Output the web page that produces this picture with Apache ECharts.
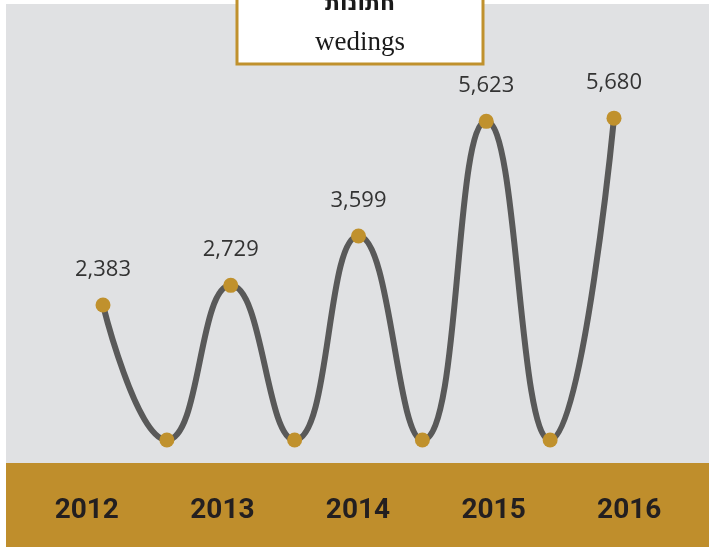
<!DOCTYPE html>
<html>
<head>
<meta charset="utf-8">
<script src="https://cdn.jsdelivr.net/npm/echarts@6/dist/echarts.min.js"></script>
<style>
  html, body { margin: 0; padding: 0; background: #fff; }
  #main { width: 709px; height: 547px; }
</style>
</head>
<body>
<div id="main"></div>
<script>
// points: year value, then a dip back to zero between years
var points = ['2012', 'a', '2013', 'b', '2014', 'c', '2015', 'd', '2016'];
var values = [2383, 0, 2729, 0, 3599, 0, 5623, 0, 5680];
var years = ['2012', '2013', '2014', '2015', '2016'];

var gold = '#c0912d';

var chart = echarts.init(document.getElementById('main'));
chart.setOption({
  backgroundColor: '#fff',
  animation: false,
  graphic: [
    { type: 'rect', z: -10, shape: { x: 6, y: 4, width: 703, height: 460 }, style: { fill: '#e0e1e3' } },
    { type: 'rect', z: -10, shape: { x: 6, y: 463, width: 703, height: 84 }, style: { fill: '#bf8e2c' } },
    { type: 'rect', z: 100, shape: { x: 237, y: -6, width: 246, height: 70 },
      style: { fill: '#fff', stroke: gold, lineWidth: 3 } },
    { type: 'text', z: 101, x: 360, y: 15,
      style: { text: 'חתונות', fill: '#1a1a1a', font: 'bold 22px "DejaVu Sans", sans-serif',
               textAlign: 'center', textVerticalAlign: 'bottom' } },
    { type: 'text', z: 101, x: 360, y: 43,
      style: { text: 'wedings', fill: '#1a1a1a', font: '27px "Liberation Serif", "DejaVu Serif", serif',
               textAlign: 'center', textVerticalAlign: 'middle' } }
  ],
  grid: [
    { left: 103, right: 95, top: 100, bottom: 107 },
    { left: 19, right: 12, top: 490, height: 1 }
  ],
  xAxis: [
    { type: 'category', gridIndex: 0, data: points, boundaryGap: false, show: false },
    { type: 'category', gridIndex: 1, data: years, boundaryGap: true,
      axisLine: { show: false }, axisTick: { show: false },
      axisLabel: { margin: 6, color: '#231f20', fontSize: 28, fontWeight: 'bold', fontFamily: 'Roboto' } }
  ],
  yAxis: [
    { type: 'value', gridIndex: 0, min: 0, max: 6000, show: false },
    { type: 'value', gridIndex: 1, show: false }
  ],
  series: [{
    type: 'line',
    data: values,
    smooth: 0.5,
    symbol: 'circle',
    symbolSize: 15,
    lineStyle: { color: '#595959', width: 6 },
    itemStyle: { color: gold },
    label: {
      show: true,
      position: 'top',
      distance: 17,
      color: '#333',
      fontSize: 22,
      fontFamily: '"Open Sans", sans-serif',
      formatter: function (p) {
        return p.value ? p.value.toLocaleString('en-US') : '';
      }
    }
  }]
});
</script>
</body>
</html>
